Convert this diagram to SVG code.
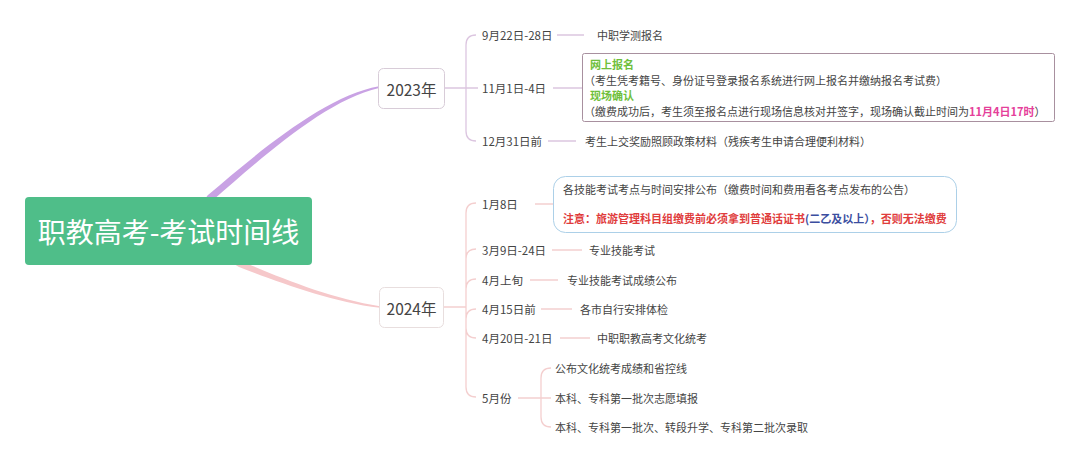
<svg xmlns="http://www.w3.org/2000/svg" width="1080" height="463" viewBox="0 0 1080 463">
<style>
text{font-family:"Noto Sans CJK SC","Liberation Sans",sans-serif;fill:#444;font-size:11px;dominant-baseline:central}
.lbl{font-size:11.5px}
.p{fill:none;stroke:#dcc6e0;stroke-width:1.3}
.k{fill:none;stroke:#f4cfcf;stroke-width:1.3}
.g{fill:#6fbf3c;font-weight:700}
.mag{fill:#e5409a;font-weight:700}
.red{fill:#e03c3c;font-weight:700}
.blue{fill:#3b4ea0;font-weight:700}
.yr{font-size:15.5px;fill:#444;text-anchor:middle}
</style>
<rect width="1080" height="463" fill="#ffffff"/>
<g id="connectors">
  <path d="M205,199 L207.7,195.3 C258,152.5 324.5,96 379,86.3 L379,87.9 C325.5,100 262,157.5 212.3,200.7 L209,203 Z" fill="#c9a2e4"/>
  <path d="M236,258 L241,261 C280.8,277.9 330.4,298.5 380,306.2 L380,307.8 C329.6,301.5 279.2,282.1 239,267 L234,264 Z" fill="#f6c8ca"/>
  <path class="p" d="M445,88 H466 M466,88 V45 Q466,35 476,35 M466,88 H478 M466,88 V131 Q466,141 476,141"/>
  <path class="p" d="M557,35 H584 M553,88 H582 M548,141 H576"/>
  <path class="k" d="M443,307 H466 M466,307 V213 Q466,203 476,203 M466,307 V259 Q466,249 476,249 M466,307 V289 Q466,279 476,279 M466,307 V319 Q466,309 476,309 M466,307 V328 Q466,338 476,338 M466,307 V387 Q466,397 476,397"/>
  <path class="k" d="M535,204 H553 M552,250 H582 M530,280 H558 M541,309 H572 M560,338 H590 M518,398 H541 M541,398 V378 Q541,368 551,368 M541,398 H551 M541,398 V417 Q541,427 551,427"/>
</g>
<g id="root">
  <rect x="25" y="197" width="287" height="68" rx="4" fill="#4fbe89"/>
  <text x="168.5" y="231" style="font-size:28px;fill:#fff;text-anchor:middle">职教高考-考试时间线</text>
</g>
<g id="y2023">
  <rect x="378.5" y="68.5" width="66" height="40" rx="5" fill="#fff" stroke="#d8ccd8"/>
  <text class="yr" x="411.5" y="88.5">2023年</text>
</g>
<g id="n2023a">
  <text class="lbl" x="482" y="35">9月22日-28日</text>
  <text x="597" y="35">中职学测报名</text>
</g>
<g id="n2023b">
  <text class="lbl" x="482" y="88">11月1日-4日</text>
  <rect x="582.5" y="53.5" width="472" height="68" rx="2" fill="#fff" stroke="#a8909f"/>
  <text class="g" x="590" y="64">网上报名</text>
  <text x="584" y="80">（考生凭考籍号、身份证号登录报名系统进行网上报名并缴纳报名考试费）</text>
  <text class="g" x="590" y="95">现场确认</text>
  <text x="584" y="111">（缴费成功后，考生须至报名点进行现场信息核对并签字，现场确认截止时间为<tspan class="mag">11月4日17时</tspan>）</text>
</g>
<g id="n2023c">
  <text class="lbl" x="482" y="141">12月31日前</text>
  <text x="585" y="141">考生上交奖励照顾政策材料（残疾考生申请合理便利材料）</text>
</g>
<g id="y2024">
  <rect x="379.5" y="287.5" width="64" height="40" rx="5" fill="#fff" stroke="#e8dede"/>
  <text class="yr" x="411.5" y="307.5">2024年</text>
</g>
<g id="n2024a">
  <text class="lbl" x="482" y="204">1月8日</text>
  <rect x="553.5" y="176.5" width="403" height="56" rx="12" fill="#fff" stroke="#acd0e8"/>
  <text x="563" y="189">各技能考试考点与时间安排公布（缴费时间和费用看各考点发布的公告）</text>
  <text x="563" y="218" class="red">注意：旅游管理科目组缴费前必须拿到普通话证书<tspan class="blue">(二乙及以上）</tspan>，否则无法缴费</text>
</g>
<g id="n2024b">
  <text class="lbl" x="482" y="250">3月9日-24日</text>
  <text x="589" y="250">专业技能考试</text>
</g>
<g id="n2024c">
  <text class="lbl" x="482" y="280">4月上旬</text>
  <text x="567" y="280">专业技能考试成绩公布</text>
</g>
<g id="n2024d">
  <text class="lbl" x="482" y="309">4月15日前</text>
  <text x="580" y="309">各市自行安排体检</text>
</g>
<g id="n2024e">
  <text class="lbl" x="482" y="338">4月20日-21日</text>
  <text x="597" y="338">中职职教高考文化统考</text>
</g>
<g id="n2024f">
  <text class="lbl" x="482" y="398">5月份</text>
  <text x="555" y="368">公布文化统考成绩和省控线</text>
  <text x="555" y="398">本科、专科第一批次志愿填报</text>
  <text x="555" y="427">本科、专科第一批次、转段升学、专科第二批次录取</text>
</g>
</svg>
